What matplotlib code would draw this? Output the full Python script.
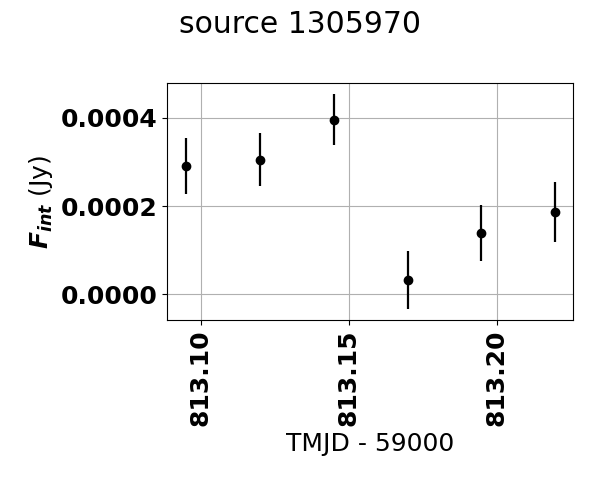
import matplotlib
matplotlib.use("Agg")
import matplotlib.pyplot as plt

tmjd = [813.0949, 813.1199, 813.1449, 813.1699, 813.1946, 813.2196]
flux = [0.000291, 0.000305, 0.000396, 0.0000325, 0.000139, 0.000186]
flux_err = [0.000064, 0.0000595, 0.0000583, 0.0000663, 0.000063, 0.0000678]
xticks = [813.10, 813.15, 813.20]
yticks = [0.0, 0.0002, 0.0004]

fig = plt.figure(figsize=(6, 5), dpi=100)
ax = fig.add_axes([0.279, 0.36, 0.676, 0.474])
ax.errorbar(tmjd, flux, yerr=flux_err, fmt='o', color='black', ecolor='black',
            elinewidth=1.6, markersize=6)
ax.grid(True)
ax.set_xticks(xticks)
ax.set_xticklabels([f"{t:.2f}" for t in xticks], rotation=90, fontsize=18, fontweight='bold')
ax.set_yticks(yticks)
ax.set_yticklabels([f"{t:.4f}" for t in yticks], fontsize=18, fontweight='bold')
ax.set_xlabel("TMJD - 59000", fontsize=18)
ax.set_ylabel(r"$\mathbfit{F_{int}}$ (Jy)", fontsize=18)
fig.suptitle("source 1305970", fontsize=21.5, x=0.5, y=0.98)
fig.savefig("out.png", dpi=100)
